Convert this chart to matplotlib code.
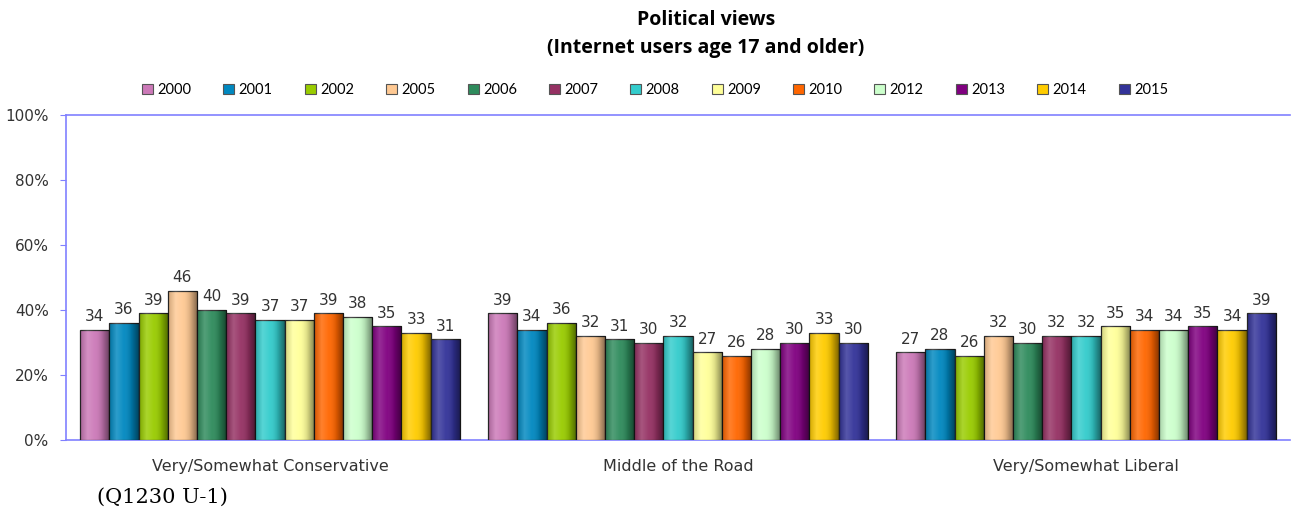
import numpy as np
import matplotlib
matplotlib.use("Agg")
import matplotlib.pyplot as plt
from matplotlib.patches import Patch
from matplotlib.colors import LinearSegmentedColormap

categories = ["Very/Somewhat Conservative", "Middle of the Road", "Very/Somewhat Liberal"]
years = ["2000", "2001", "2002", "2005", "2006", "2007", "2008", "2009", "2010", "2012", "2013", "2014", "2015"]
v2000 = [34, 39, 27]
v2001 = [36, 34, 28]
v2002 = [39, 36, 26]
v2005 = [46, 32, 32]
v2006 = [40, 31, 30]
v2007 = [39, 30, 32]
v2008 = [37, 32, 32]
v2009 = [37, 27, 35]
v2010 = [39, 26, 34]
v2012 = [38, 28, 34]
v2013 = [35, 30, 35]
v2014 = [33, 33, 34]
v2015 = [31, 30, 39]
series = [v2000, v2001, v2002, v2005, v2006, v2007, v2008, v2009, v2010, v2012, v2013, v2014, v2015]
colors = ["#CC79B8", "#0088C0", "#99CC00", "#FFC993", "#2E8B5C", "#953163", "#33CCCC",
          "#FFFF99", "#FF6600", "#CCFFCC", "#800080", "#FFCC00", "#333399"]
yticks = [0, 20, 40, 60, 80, 100]
ytick_labels = ["0%", "20%", "40%", "60%", "80%", "100%"]

W, H = 1291, 512
fig = plt.figure(figsize=(W / 100, H / 100), dpi=100)
ax = fig.add_axes([66 / W, (H - 440) / H, (1290 - 66) / W, 325 / H])

axis_blue = "#8080FF"
n = len(series)
bw = 0.0716
x = np.arange(len(categories))

shade = LinearSegmentedColormap.from_list(
    "shade", [(0, 0, 0, 0.18), (1, 1, 1, 0.18), (1, 1, 1, 0.05), (0, 0, 0, 0.15), (0, 0, 0, 0.5)])
grad = np.linspace(0, 1, 64).reshape(1, -1)

for i, (vals, col) in enumerate(zip(series, colors)):
    xs = x + (i - (n - 1) / 2) * bw
    bars = ax.bar(xs, vals, width=bw, color=col, edgecolor="#2a2a2a", linewidth=0.9, zorder=3)
    for b, v in zip(bars, vals):
        x0 = b.get_x()
        im = ax.imshow(grad, cmap=shade, aspect="auto",
                       extent=[x0, x0 + b.get_width(), 0, v], zorder=3.5, interpolation="bilinear")
        im.set_clip_path(b)
        ax.annotate(str(v), (b.get_x() + b.get_width() / 2, v), xytext=(0, 4),
                    textcoords="offset points", ha="center", va="bottom",
                    fontsize=11, color="#333333", family="DejaVu Sans", zorder=5)

ax.set_xlim(-0.5, 2.5)
ax.set_ylim(0, 100)
ax.set_yticks(yticks)
ax.set_yticklabels(ytick_labels, fontsize=11, color="#333333")
ax.set_xticks(x)
ax.set_xticklabels(categories, fontsize=11.5, color="#333333")
ax.tick_params(axis="x", length=0, pad=14)
ax.tick_params(axis="y", length=4.5, color=axis_blue, pad=8)
for s in ["left", "bottom", "top"]:
    ax.spines[s].set_color(axis_blue)
    ax.spines[s].set_linewidth(1.2)
ax.spines["right"].set_visible(False)

handles = [Patch(facecolor=c, edgecolor="#555555", linewidth=0.8, label=y) for c, y in zip(colors, years)]
fig.legend(handles=handles, loc="center", bbox_to_anchor=(655 / W, 1 - 90 / H), ncol=13,
           frameon=False, prop={"family": "Lato", "size": 10.5}, handlelength=0.75,
           handleheight=0.75, handletextpad=0.3, columnspacing=2.2)

fig.text(706 / W, 1 - 20 / H, "Political views", ha="center", va="center",
         fontsize=14, fontweight="bold", family="Open Sans")
fig.text(706 / W, 1 - 48 / H, "(Internet users age 17 and older)", ha="center", va="center",
         fontsize=14, fontweight="bold", family="Open Sans")
fig.text(97 / W, 1 - 497 / H, "(Q1230 U-1)", ha="left", va="center",
         fontsize=15, family="DejaVu Serif")

fig.savefig("out.png", dpi=100)
